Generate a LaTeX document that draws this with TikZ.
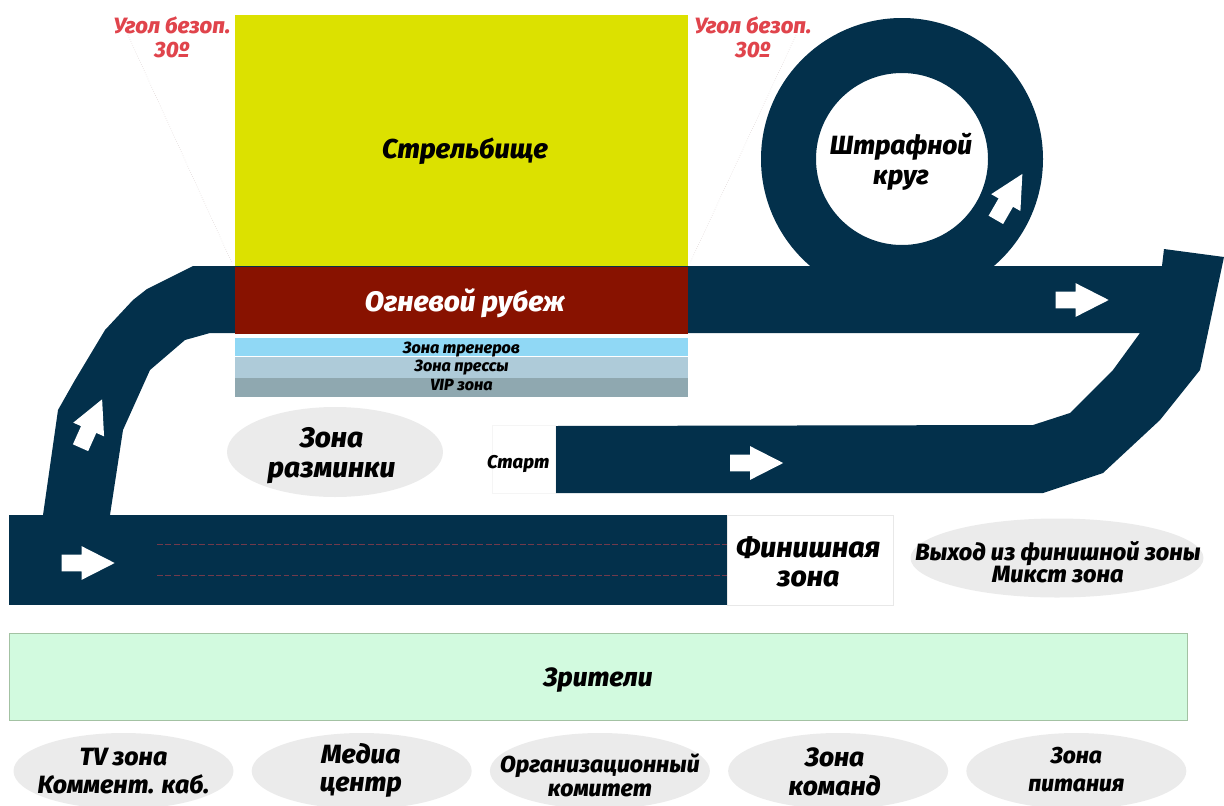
\documentclass[tikz,border=0pt]{standalone}
\usepackage{fontspec}
\setmainfont[BoldItalicFont={Fira Sans ExtraBold Italic}]{Fira Sans}
\usetikzlibrary{positioning, shapes.geometric, shapes.arrows}
\definecolor{trackblue}{HTML}{03304B}
\definecolor{rangeyellow}{HTML}{DCE100}
\definecolor{linered}{HTML}{881200}
\definecolor{safetyred}{HTML}{E0444C}
\definecolor{ovalgray}{HTML}{EBEBEB}
\definecolor{coachblue}{HTML}{90D8F5}
\definecolor{pressblue}{HTML}{AECBD9}
\definecolor{vipgray}{HTML}{8FA8B0}
\definecolor{crowdgreen}{HTML}{D2FADF}
\newcommand{\zonefont}[2]{\fontsize{#1}{#2}\selectfont\bfseries\itshape}
\tikzset{
	zonelabel/.style={font=\zonefont{15}{17}, align=center, text=black},
	block/.style={rectangle, inner sep=0pt, zonelabel},
	oval/.style={ellipse, fill=ovalgray, inner sep=-40pt, zonelabel},
	bottomoval/.style={oval, minimum width=220*0.02cm, minimum height=76*0.02cm},
	strip/.style={block, minimum width=453*0.02cm},
	striplabel/.style={zonelabel, font=\zonefont{9.2}{10}},
	flow/.style={single arrow, fill=white, inner xsep=0pt, inner ysep=8*0.02cm, minimum height=53*0.02cm, single arrow head extend=8.5*0.02cm, single arrow tip angle=54},
	warn/.style={font=\zonefont{12.6}{13.6}, align=center, text=safetyred},
	sightline/.style={draw=red!12!gray!35, line width=0.3pt, densely dotted},
	laneline/.style={draw=safetyred!50!trackblue, line width=0.5pt, dash pattern=on 3.4pt off 1.4pt}
}
\begin{document}
\begin{tikzpicture}[x=0.02cm, y=-0.02cm]
	\useasboundingbox (0,0) rectangle (1224,805);
	%safety lines
	\coordinate (sightla) at (127,33);
	\coordinate (sightlb) at (232,263);
	\coordinate (sightra) at (796,35);
	\coordinate (sightrb) at (690,263);
	\draw[sightline] (sightla) -- (sightlb);
	\draw[sightline] (sightra) -- (sightrb);
	%track
	\fill[trackblue, even odd rule] (902,159) circle [radius=141] (902,159) circle [radius=86];
	\fill[trackblue] (43,515) -- (58,410) -- (75,380) -- (105,330) -- (133,300) -- (147,289) -- (193,266) -- (1162,266) -- (1164,249) -- (1224,257) -- (1200,370) -- (1160,420) -- (1103,473) -- (1043,493) -- (555,493) -- (555,426) -- (1033,425) -- (1070,413) -- (1113,370) -- (1140,333) -- (210,333) -- (185,340) -- (150,370) -- (123,430) -- (110,515) -- cycle;
	\fill[trackblue] (9,515) rectangle (727,605);
	\draw[laneline] (157,544) -- (727,544);
	\draw[laneline] (157,575) -- (727,575);
	%arrows
	\node[flow] (arrowfinish) at (80,563) {};
	\node[flow, rotate=66] (arrowclimb) at (88,431) {};
	\node[flow] (arrowstart) at (748.5,463) {};
	\node[flow] (arrowtop) at (1074,300) {};
	\node[flow, rotate=60] (arrowloop) at (1005,204) {};
	%range
	\node[block, fill=rangeyellow, minimum width=453*0.02cm, minimum height=251*0.02cm, label={[zonelabel, font=\zonefont{15.5}{18}, xshift=2pt, yshift=-6pt]center:Стрельбище}] (range) at (461.5,140.5) {};
	\node[block, fill=linered, minimum width=453*0.02cm, minimum height=67*0.02cm, below=0pt of range, label={[zonelabel, text=white, font=\zonefont{16}{18}, xshift=2pt, yshift=-1.5pt]center:Огневой рубеж}] (firing) {};
	\node[strip, fill=coachblue, minimum height=18*0.02cm, label={[striplabel, yshift=-1.5pt]center:Зона тренеров}] (coaches) at (461.5,347) {};
	\node[strip, fill=pressblue, minimum height=21*0.02cm, below=0pt of coaches, label={[striplabel]center:Зона прессы}] (press) {};
	\node[strip, fill=vipgray, minimum height=19*0.02cm, below=0pt of press, label={[striplabel, yshift=1.5pt]center:VIP зона}] (vip) {};
	%labels
	\node[warn] (warnl) at (172,37.5) {Угол безоп.\\30º};
	\node[warn] (warnr) at (753,37.5) {Угол безоп.\\30º};
	\node[zonelabel] (penalty) at (901,162) {Штрафной\\круг};
	\node[oval, minimum width=216*0.02cm, minimum height=90*0.02cm, label={[zonelabel, font=\zonefont{16}{17}, xshift=-2pt, yshift=-2pt]center:Зона\\разминки}] (warmup) at (335,452) {};
	\node[block, draw=gray!8, fill=white, minimum width=63*0.02cm, minimum height=68*0.02cm, label={[zonelabel, font=\zonefont{10.5}{12}, xshift=-3pt, yshift=-3pt]center:Старт}] (start) at (523.5,459) {};
	\node[block, draw=gray!18, fill=white, minimum width=166*0.02cm, minimum height=90*0.02cm, label={[zonelabel, font=\zonefont{16.2}{17}, xshift=-1pt, yshift=-1pt]center:Финишная\\зона}] (finish) at (810,560) {};
	\node[oval, minimum width=293*0.02cm, minimum height=79*0.02cm, label={[zonelabel, font=\zonefont{13.4}{12.8}, xshift=0.5pt, yshift=-2.3pt]center:Выход из финишной зоны\\Микст зона}] (exit) at (1057,558) {};
	\node[block, draw=green!20!gray!60, line width=0.3pt, fill=crowdgreen, minimum width=1178*0.02cm, minimum height=87*0.02cm, label={[zonelabel, yshift=-2pt]center:Зрители}] (crowd) at (598,676.5) {};
	\node[bottomoval, label={[zonelabel, font=\zonefont{14.2}{16}]center:TV зона\\Коммент. каб.}] (tv) at (123.5,771) {};
	\node[bottomoval, right=17.5*0.02cm of tv, label={[zonelabel, font=\zonefont{15}{16}, xshift=-0.5pt, yshift=0.5pt]center:Медиа\\центр}] (media) {};
	\node[bottomoval, right=17.5*0.02cm of media, label={[zonelabel, font=\zonefont{13.1}{13.6}, yshift=-2.5pt]center:Организационный\\комитет}] (org) {};
	\node[bottomoval, right=17.5*0.02cm of org, label={[zonelabel, font=\zonefont{15}{16}, xshift=-2pt, yshift=-0.5pt]center:Зона\\команд}] (teams) {};
	\node[bottomoval, right=17.5*0.02cm of teams, label={[zonelabel, font=\zonefont{13}{16}, yshift=1pt]center:Зона\\питания}] (food) {};
\end{tikzpicture}
\end{document}
